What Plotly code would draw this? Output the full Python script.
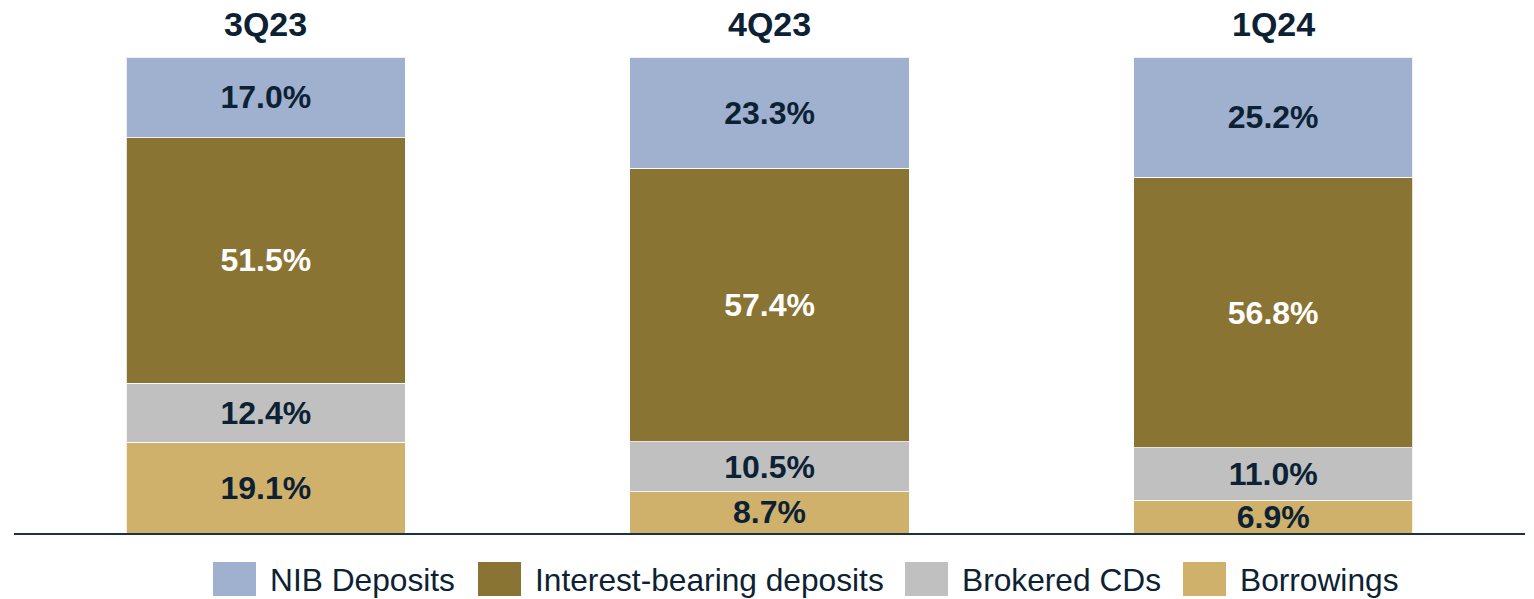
import plotly.graph_objects as go

W, H = 1534, 599

categories = ["3Q23", "4Q23", "1Q24"]
nib_deposits = [17.0, 23.3, 25.2]
interest_bearing = [51.5, 57.4, 56.8]
brokered_cds = [12.4, 10.5, 11.0]
borrowings = [19.1, 8.7, 6.9]

series_names = ["NIB Deposits", "Interest-bearing deposits", "Brokered CDs", "Borrowings"]
colors = {
    "NIB Deposits": "#9fb1cf",
    "Interest-bearing deposits": "#8a7434",
    "Brokered CDs": "#c0c0c0",
    "Borrowings": "#cfb16c",
}
text_colors = {
    "NIB Deposits": "#0c2234",
    "Interest-bearing deposits": "#ffffff",
    "Brokered CDs": "#0c2234",
    "Borrowings": "#0c2234",
}
values = {
    "NIB Deposits": nib_deposits,
    "Interest-bearing deposits": interest_bearing,
    "Brokered CDs": brokered_cds,
    "Borrowings": borrowings,
}

FONT = "Liberation Sans, Arial, sans-serif"
NAVY = "#0c2234"

fig = go.Figure()
# bottom-to-top stacking order
for name in ["Borrowings", "Brokered CDs", "Interest-bearing deposits", "NIB Deposits"]:
    fig.add_trace(go.Bar(
        name=name,
        x=categories,
        y=values[name],
        marker=dict(color=colors[name], line=dict(color="rgba(255,255,255,0.8)", width=1)),
        text=[f"<b>{v:.1f}%</b>" for v in values[name]],
        textposition="inside",
        insidetextanchor="middle",
        textfont=dict(family=FONT, size=32, color=text_colors[name]),
        showlegend=False,
        hoverinfo="skip",
    ))

# category titles on top
for c in categories:
    fig.add_annotation(x=c, xref="x", y=1 - 24 / H, yref="paper",
                       text=f"<b>{c}</b>", showarrow=False,
                       font=dict(family=FONT, size=34, color=NAVY),
                       xanchor="center", yanchor="middle")

# custom legend with large swatches
legend_layout = [  # (swatch left px, text left px)
    ("NIB Deposits", 213, 268),
    ("Interest-bearing deposits", 478, 533),
    ("Brokered CDs", 905, 960),
    ("Borrowings", 1183, 1238),
]
for name, sx, tx in legend_layout:
    fig.add_shape(type="rect", xref="paper", yref="paper",
                  x0=sx / W, x1=(sx + 43) / W,
                  y0=1 - 596 / H, y1=1 - 562 / H,
                  fillcolor=colors[name], line=dict(width=0))
    fig.add_annotation(x=tx / W, xref="paper", y=1 - 580 / H, yref="paper",
                       text=name, showarrow=False, xanchor="left", yanchor="middle",
                       font=dict(family=FONT, size=31.7, color=NAVY))

fig.update_layout(
    width=W, height=H,
    margin=dict(l=0, r=0, t=0, b=0),
    barmode="stack",
    bargap=0.446,
    plot_bgcolor="white",
    paper_bgcolor="white",
    uniformtext=dict(minsize=32, mode="show"),
    xaxis=dict(domain=[14 / W, 1525 / W], showticklabels=False, ticks="",
               showline=True, linecolor="#1c3144", linewidth=2,
               showgrid=False, zeroline=False, fixedrange=True),
    yaxis=dict(domain=[1 - 533 / H, 1 - 57 / H], range=[0, 100], visible=False,
               showgrid=False, zeroline=False, fixedrange=True),
)

fig.write_html("out.html")
